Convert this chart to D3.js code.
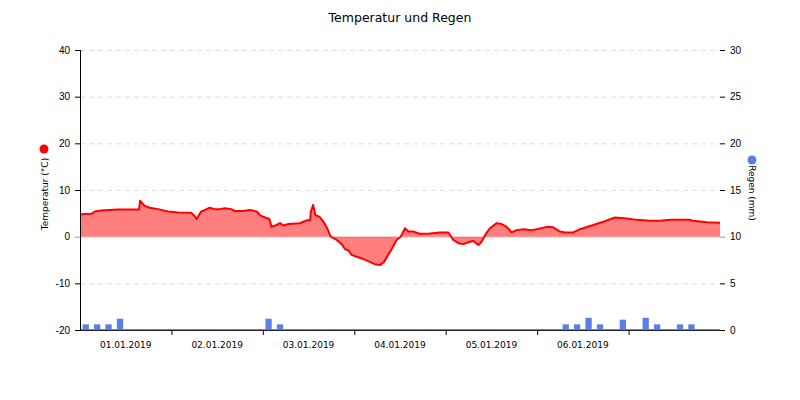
<!DOCTYPE html>
<html>
<head>
<meta charset="utf-8">
<script src="https://cdn.jsdelivr.net/npm/d3@7.9.0/dist/d3.min.js"></script>
<style>
  body { margin: 0; background: #fff; }
  svg { font-family: "DejaVu Sans", Verdana, sans-serif; }
</style>
</head>
<body>
<svg id="chart" width="800" height="400"></svg>
<script>
// Temperatur: Stunden seit 01.01.2019 00:00 und Wert in °C
const tempHours = [0, 3.0, 3.9, 5.6, 10.0, 15.5, 15.75, 17.0, 18.3, 20.5, 23.1, 25.7, 29.2, 29.9, 30.6,
  31.8, 32.7, 34.0, 35.4, 36.7, 38.0, 39.7, 40.6, 42.8, 44.6, 46.4, 47.4, 48.6, 49.7, 50.3, 51.6,
  52.5, 53.4, 54.7, 57.75, 58.6, 59.5, 60.4, 60.6, 61.2, 61.8, 62.8, 63.9, 64.9, 65.8, 67.4, 68.7,
  69.6, 70.4, 71.3, 72.6, 74.4, 76.1, 77.4, 78.75, 79.8, 80.9, 82.2, 83.1, 84.2, 85.3, 86.2, 87.5,
  89.25, 91.9, 94.5, 96.7, 98.0, 99.3, 100.6, 102.4, 103.2, 104.6, 105.4, 106.6, 107.6, 109.4, 110.7,
  112.0, 113.3, 114.6, 116.4, 118.6, 119.9, 122.5, 124.2, 126.0, 127.3, 129.5, 131.25, 134.7, 137.4,
  140.4, 143.5, 146.1, 149.6, 152.25, 154.9, 157.5, 160.1, 161.0, 164.5, 168];
const tempValues = [4.8, 4.9, 5.4, 5.6, 5.8, 5.8, 7.7, 6.6, 6.2, 5.9, 5.4, 5.2, 5.1, 4.6, 3.8,
  5.4, 5.7, 6.2, 5.9, 5.9, 6.1, 5.9, 5.5, 5.5, 5.7, 5.4, 4.5, 4.1, 3.8, 2.1, 2.5,
  2.9, 2.4, 2.7, 2.9, 3.2, 3.5, 3.5, 5.4, 6.8, 4.6, 4.3, 3.2, 1.8, 0, -0.7, -1.6,
  -2.7, -2.9, -3.9, -4.3, -4.8, -5.4, -5.9, -6.1, -5.4, -3.9, -2.1, -0.7, 0, 1.8, 1.1, 1.1,
  0.6, 0.7, 0.9, 0.9, -0.7, -1.4, -1.6, -1.1, -0.9, -1.8, -1.1, 0.7, 1.8, 2.9, 2.7,
  2.1, 0.9, 1.4, 1.6, 1.4, 1.6, 2.1, 2.0, 1.1, 0.9, 0.9, 1.6, 2.5, 3.2,
  4.1, 3.9, 3.6, 3.4, 3.4, 3.6, 3.6, 3.6, 3.4, 3.1, 3.0];

// Regen: Summe je 3 Stunden in mm (56 Intervalle)
const rainValues = [0.5, 0.5, 0.5, 1.1, 0, 0, 0, 0, 0, 0, 0, 0, 0, 0, 0, 0,
  1.1, 0.5, 0, 0, 0, 0, 0, 0, 0, 0, 0, 0, 0, 0, 0, 0,
  0, 0, 0, 0, 0, 0, 0, 0, 0, 0, 0.5, 0.5, 1.2, 0.5, 0, 1.0,
  0, 1.2, 0.5, 0, 0.5, 0.5, 0, 0];

const dayLabels = ['01.01.2019', '02.01.2019', '03.01.2019', '04.01.2019', '05.01.2019', '06.01.2019'];
const tempTicks = [-20, -10, 0, 10, 20, 30, 40];
const rainTicks = [0, 5, 10, 15, 20, 25, 30];

const start = new Date(2019, 0, 1);
const end = new Date(2019, 0, 8);
const hour = 3600 * 1000;
const margin = { left: 80, right: 720, top: 50, bottom: 330 };

const svg = d3.select('#chart');
let x = d3.scaleTime().domain([start, end]).range([margin.left, margin.right]);
let yT = d3.scaleLinear().domain([-20, 40]).range([margin.bottom, margin.top]);
let yR = d3.scaleLinear().domain([0, 30]).range([margin.bottom, margin.top]);

let temps = tempHours.map((h, i) => ({ date: new Date(+start + h * hour), value: tempValues[i] }));
let rain = rainValues.map((v, i) => ({ date: new Date(+start + i * 3 * hour), value: v }));

svg.append('text')
  .attr('x', 400).attr('y', 22)
  .attr('text-anchor', 'middle')
  .attr('font-size', 12.5)
  .text('Temperatur und Regen');

// Gitter
svg.append('g')
  .selectAll('line')
  .data(tempTicks.filter((t) => t !== -20 && t !== 0))
  .join('line')
  .attr('x1', margin.left).attr('x2', margin.right)
  .attr('y1', (d) => yT(d) + 0.5).attr('y2', (d) => yT(d) + 0.5)
  .attr('stroke', '#dcdcdc')
  .attr('stroke-dasharray', '5,4');

svg.append('line')
  .attr('x1', margin.left).attr('x2', margin.right)
  .attr('y1', yT(0) + 0.5).attr('y2', yT(0) + 0.5)
  .attr('stroke', '#d8d8d8');

// Temperaturfläche
let area = d3.area()
  .x((d) => x(d.date))
  .y0(yT(0))
  .y1((d) => yT(d.value));
let line = d3.line()
  .x((d) => x(d.date))
  .y((d) => yT(d.value));

svg.append('path')
  .datum(temps)
  .attr('d', area)
  .attr('fill', 'rgba(255,0,0,0.5)');

svg.append('path')
  .datum(temps)
  .attr('d', line)
  .attr('fill', 'none')
  .attr('stroke', '#ff0000')
  .attr('stroke-width', 2)
  .attr('stroke-linejoin', 'round');

// Regenbalken
let slot = x(new Date(+start + 3 * hour)) - x(start);
let barW = slot * 0.55;
svg.append('g')
  .selectAll('rect')
  .data(rain.filter((d) => d.value > 0))
  .join('rect')
  .attr('x', (d) => x(d.date) + slot / 2 - barW / 2)
  .attr('y', (d) => yR(d.value) - 1)
  .attr('width', barW)
  .attr('height', (d) => yR(0) - yR(d.value))
  .attr('fill', '#5b7fe8');

svg.append('line')
  .attr('x1', margin.left).attr('x2', margin.right)
  .attr('y1', yR(0) - 0.5).attr('y2', yR(0) - 0.5)
  .attr('stroke', '#5b7fe8');

// Achsen
let plain = (d) => String(d);

let leftAxis = svg.append('g')
  .attr('transform', `translate(${margin.left},0)`)
  .call(d3.axisLeft(yT).tickValues(tempTicks).tickSize(5).tickPadding(5).tickFormat(plain));
leftAxis.select('.domain').attr('stroke', '#000').attr('d', `M0.5,${margin.top}V${margin.bottom}`);
leftAxis.selectAll('text').attr('font-size', 10).attr('font-family', null).attr('fill', '#000');
leftAxis.selectAll('.tick line').attr('stroke', (d) => d === 0 ? '#999' : '#000');

let rightAxis = svg.append('g')
  .attr('transform', `translate(${margin.right},0)`)
  .call(d3.axisRight(yR).tickValues(rainTicks).tickSize(5).tickPadding(5).tickFormat(plain));
rightAxis.select('.domain').remove();
rightAxis.selectAll('text').attr('font-size', 10).attr('font-family', null).attr('fill', '#000');
rightAxis.selectAll('.tick line').attr('stroke', (d) => d === 10 ? '#999' : '#000');

let days = d3.timeDay.range(d3.timeDay.offset(start, 1), end);
let bottomAxis = svg.append('g')
  .attr('transform', `translate(0,${margin.bottom})`)
  .call(d3.axisBottom(x).tickValues(days).tickSize(5).tickFormat(''));
bottomAxis.select('.domain').attr('d', `M${margin.left},0.5H${margin.right}`).attr('stroke', '#223');

svg.append('g')
  .selectAll('text')
  .data(dayLabels)
  .join('text')
  .attr('x', (d, i) => x(new Date(+start + (i * 24 + 12) * hour)))
  .attr('y', margin.bottom + 18)
  .attr('text-anchor', 'middle')
  .attr('font-size', 9)
  .text((d) => d);

// Achsentitel mit Farbpunkten
svg.append('text')
  .attr('transform', 'translate(48,194) rotate(-90)')
  .attr('text-anchor', 'middle')
  .attr('font-size', 9)
  .text('Temperatur (°C)');
svg.append('circle').attr('cx', 44).attr('cy', 149).attr('r', 4.5).attr('fill', '#ff0000');

svg.append('text')
  .attr('transform', 'translate(749,193) rotate(90)')
  .attr('text-anchor', 'middle')
  .attr('font-size', 9)
  .text('Regen (mm)');
svg.append('circle').attr('cx', 752).attr('cy', 160).attr('r', 4.5).attr('fill', '#5b7fe8');
</script>
</body>
</html>
